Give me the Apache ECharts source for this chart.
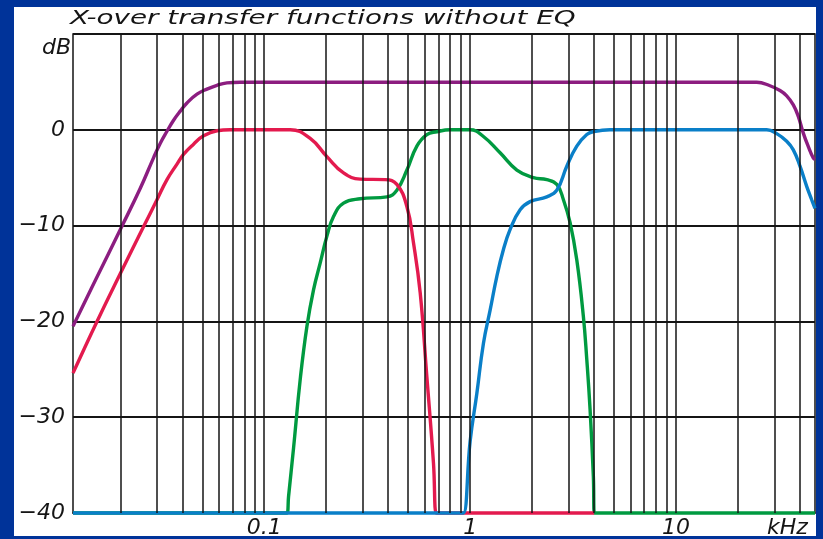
<!DOCTYPE html>
<html>
<head>
<meta charset="utf-8">
<script src="https://cdn.jsdelivr.net/npm/echarts@6/dist/echarts.min.js"></script>
<style>
  html, body { margin: 0; padding: 0; background: #003399; }
  #frame { position: absolute; left: 0; top: 0; width: 823px; height: 539px; background: #003399; overflow: hidden; }
  #paper { position: absolute; left: 14px; top: 7px; width: 802px; height: 529px; background: #ffffff; }
  #chart { position: absolute; left: 0; top: 0; width: 823px; height: 539px; }
</style>
</head>
<body>
<div id="frame"><div id="paper"></div><div id="chart"></div></div>
<script>
// Frequency range of the plot (kHz) and level range (dB)
const freqMin = 0.01178;
const freqMax = 47.3;
const dbMin = -40;
const dbMax = 10;
const dbStep = 10;

// Vertical grid lines: 2..9 per decade
const gridFreqs = [
  0.02, 0.03, 0.04, 0.05, 0.06, 0.07, 0.08, 0.09,
  0.1, 0.2, 0.3, 0.4, 0.5, 0.6, 0.7, 0.8, 0.9,
  1, 2, 3, 4, 5, 6, 7, 8, 9,
  10, 20, 30, 40
];
const freqTickLabels = [0.1, 1, 10];

// Low-pass (bass) branch
const lowFreq = [0.01178, 0.01541, 0.0200, 0.02595, 0.03013, 0.0337, 0.03769, 0.04062, 0.04537,
  0.05073, 0.05894, 0.06839, 0.09,
  0.1337, 0.1672, 0.2015, 0.2427, 0.2924, 0.3867, 0.4406, 0.4929, 0.5306, 0.5719,
  0.6163, 0.6636, 0.684, 0.70, 4.0];
const lowDb = [-25.4, -20.0, -15.0, -10.1, -7.3, -5.2, -3.58, -2.54, -1.5,
  -0.63, -0.1, 0, 0,
  0, -0.9, -2.8, -4.5, -5.15, -5.2, -5.7, -8.0, -11.8, -17.0,
  -25.8, -34.8, -40, -40, -40];

// Band-pass (mid) branch
const midFreq = [0.01178, 0.125, 0.1289, 0.1312, 0.1388, 0.1496, 0.1612, 0.1735, 0.1870, 0.2015,
  0.2170, 0.2427, 0.2924, 0.3941, 0.4406, 0.4929, 0.5511, 0.6163, 0.6892, 0.7996,
  1.0, 1.160, 1.398, 1.686, 2.029, 2.357, 2.636, 2.838, 3.058, 3.296,
  3.548, 3.686, 3.824, 3.967, 4.012, 4.1, 47.3];
const midDb = [-40, -40, -40, -38.3, -33.2, -26.0, -20.5, -16.7, -13.9, -11.1,
  -9.05, -7.65, -7.2, -7.0, -6.3, -4.2, -1.7, -0.5, -0.2, 0,
  0, -0.7, -2.4, -4.2, -5.0, -5.2, -5.7, -7.3, -9.7, -13.6,
  -19.5, -24.0, -29.2, -36.2, -40, -40, -40];

// High-pass (treble) branch
const highFreq = [0.01178, 0.90, 0.9278, 1.0, 1.078, 1.160, 1.251, 1.348, 1.451, 1.564,
  1.749, 1.955, 2.357, 2.636, 2.947, 3.296, 3.686, 3.967, 4.782, 27.56,
  30.82, 34.47, 37.11, 39.99, 43.1, 45.58, 47.3];
const highDb = [-40, -40, -40, -32.5, -27.5, -22.3, -18.8, -15.3, -12.5, -10.4,
  -8.35, -7.5, -7.0, -6.3, -3.8, -1.7, -0.5, -0.2, 0, 0,
  -0.4, -1.2, -2.1, -3.8, -5.9, -7.3, -8.2];

// Full-range branch
const fullFreq = [0.01178, 0.01534, 0.0200, 0.0250, 0.02902, 0.03127, 0.0337, 0.03628, 0.0391,
  0.04214, 0.04714, 0.0527, 0.05894, 0.0659, 0.07646, 0.09,
  24.65, 28.59, 31.98, 34.47, 37.11, 39.24, 41.50, 43.88, 46.40, 47.3];
const fullDb = [-20.5, -15.45, -10.4, -6.1, -2.9, -1.4, -0.15, 1.0, 1.95,
  2.8, 3.72, 4.25, 4.65, 4.9, 4.97, 4.97,
  4.97, 4.6, 4.1, 3.55, 2.6, 1.4, -0.35, -1.75, -2.95, -3.1];

const titleText = 'X-over transfer functions without EQ';

const pairs = (fs, ds) => fs.map((f, i) => [f, ds[i]]);
const FONT = '"DejaVu Sans", "Liberation Sans", sans-serif';
const INK = '#151515';

function curve(name, fs, ds, color) {
  return {
    name: name,
    type: 'line',
    data: pairs(fs, ds),
    symbol: 'none',
    smooth: 0.45,
    clip: false,
    z: 3,
    lineStyle: { color: color, width: 3.4 },
    emphasis: { disabled: true },
    animation: false
  };
}

const chart = echarts.init(document.getElementById('chart'), null, { renderer: 'canvas' });
chart.setOption({
  backgroundColor: 'transparent',
  animation: false,
  grid: {
    left: 73, right: 8, top: 34, bottom: 25,
    show: true, borderColor: INK, borderWidth: 1.5, backgroundColor: 'transparent'
  },
  xAxis: {
    type: 'log',
    logBase: 10,
    min: freqMin,
    max: freqMax,
    name: 'kHz',
    nameLocation: 'end',
    nameGap: -48,
    nameTextStyle: {
      fontFamily: FONT, fontStyle: 'italic', fontSize: 22, color: INK,
      align: 'left', verticalAlign: 'top', padding: [4, 0, 0, 0]
    },
    axisLine: { show: true, onZero: false, lineStyle: { color: INK, width: 1.5 } },
    axisTick: { show: false },
    splitLine: { show: false },
    axisLabel: {
      show: true,
      margin: 4,
      showMinLabel: false,
      showMaxLabel: false,
      fontFamily: FONT, fontStyle: 'italic', fontSize: 22, color: INK,
      formatter: function (v) {
        for (const t of freqTickLabels) {
          if (Math.abs(v - t) / t < 1e-6) return String(t);
        }
        return '';
      }
    }
  },
  yAxis: {
    type: 'value',
    min: dbMin,
    max: dbMax,
    interval: dbStep,
    name: 'dB',
    nameLocation: 'end',
    nameGap: -14,
    nameTextStyle: {
      fontFamily: FONT, fontStyle: 'italic', fontSize: 22, color: INK,
      align: 'right', verticalAlign: 'middle', padding: [0, 2, 0, 0]
    },
    axisLine: { show: false },
    axisTick: { show: false },
    splitLine: { show: true, lineStyle: { color: INK, width: 2 } },
    axisLabel: {
      margin: 8,
      fontFamily: FONT, fontStyle: 'italic', fontSize: 22, color: INK,
      formatter: function (v) {
        if (v >= dbMax) return '';
        return v < 0 ? '\u2212' + Math.abs(v) : String(v);
      }
    }
  },
  graphic: [{
    type: 'text',
    x: 70,
    y: 9,
    scaleX: 1.39,
    silent: true,
    style: {
      text: titleText,
      font: 'italic 20px ' + FONT,
      fill: INK
    }
  }],
  series: [
    {
      name: 'grid',
      type: 'line',
      data: [],
      silent: true,
      z: 1,
      markLine: {
        silent: true,
        animation: false,
        symbol: ['none', 'none'],
        label: { show: false },
        emphasis: { disabled: true },
        lineStyle: { color: INK, width: 1.5, type: 'solid' },
        data: gridFreqs.map(f => ({ xAxis: f }))
      }
    },
    curve('Mid', midFreq, midDb, '#009a40'),
    curve('Bass', lowFreq, lowDb, '#e31a4e'),
    curve('Treble', highFreq, highDb, '#0a7fc8'),
    curve('Full range', fullFreq, fullDb, '#8c1d80')
  ]
});
</script>
</body>
</html>
